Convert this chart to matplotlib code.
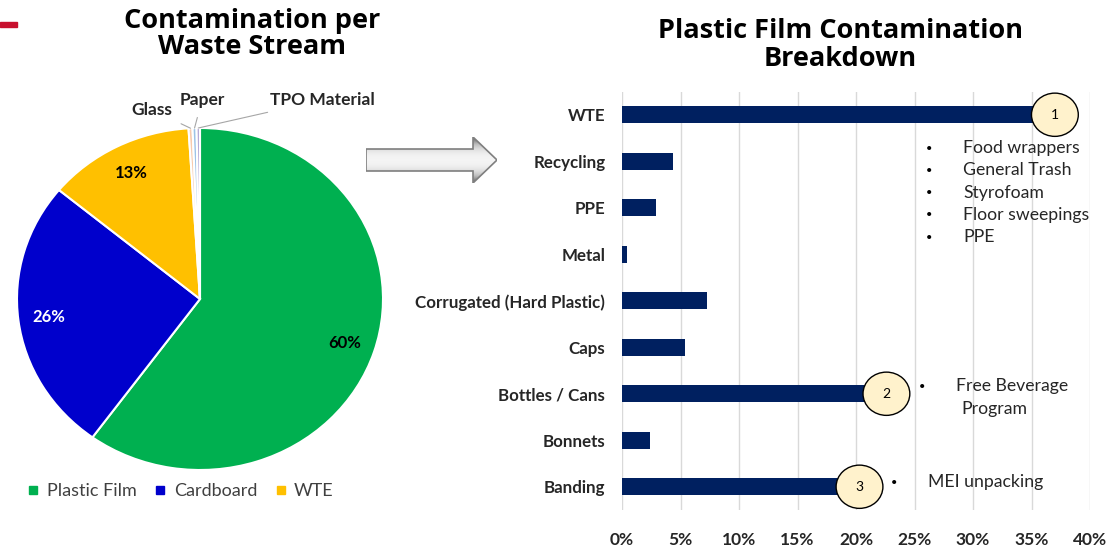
import numpy as np
import matplotlib.pyplot as plt
from matplotlib.patches import Ellipse, Polygon, Rectangle
from matplotlib.lines import Line2D

# pie data
streams = ['Plastic Film', 'Cardboard', 'WTE', 'Glass', 'Paper', 'TPO Material']
stream_share = [60, 26, 13, 0.35, 0.35, 0.3]
stream_colors = ['#00B050', '#0000CC', '#FFC000', '#F8CBAD', '#9DC3E6', '#B4A7D6']

# bar data
film_cats = ['WTE', 'Recycling', 'PPE', 'Metal', 'Corrugated (Hard Plastic)',
             'Caps', 'Bottles / Cans', 'Bonnets', 'Banding']
film_pct = [37, 4.4, 2.9, 0.4, 7.3, 5.4, 22.6, 2.4, 20.3]
ticks_pct = [0, 5, 10, 15, 20, 25, 30, 35, 40]

callouts = {'WTE': '1', 'Bottles / Cans': '2', 'Banding': '3'}
wte_notes = ['Food wrappers', 'General Trash', 'Styrofoam', 'Floor sweepings', 'PPE']

W, H = 1120, 549
fig = plt.figure(figsize=(W / 100, H / 100), dpi=100)
plt.rcParams['font.family'] = ['Lato', 'DejaVu Sans']

def fx(px):
    return px / W

def fy(py):
    return 1 - py / H

# red accent at top-left
fig.patches.append(Rectangle((0, fy(27)), fx(17), 5 / H, transform=fig.transFigure,
                             color='#C8102E', zorder=5))

# titles
fig.text(fx(252), fy(34), 'Contamination per\nWaste Stream', ha='center', va='center',
         fontsize=19.5, fontweight='bold', family='Open Sans', linespacing=0.95)
fig.text(fx(840), fy(45), 'Plastic Film Contamination\nBreakdown', ha='center', va='center',
         fontsize=19.5, fontweight='bold', family='Open Sans', linespacing=1.05)

# ---- pie ----
cx, cy, rx, ry = 200, 299, 183, 171
axp = fig.add_axes([fx(cx - rx), fy(cy + ry), 2 * rx / W, 2 * ry / H])

def pct_label(p):
    return '%d%%' % round(p) if p > 5 else ''

wedges, _, autotexts = axp.pie(stream_share, colors=stream_colors, startangle=90,
                               counterclock=False, autopct=pct_label, pctdistance=0.83,
                               wedgeprops=dict(edgecolor='white', linewidth=1.5),
                               textprops=dict(fontsize=12, fontweight='bold'))
axp.set_aspect('auto')
axp.set_xlim(-1, 1)
axp.set_ylim(-1, 1)
autotexts[1].set_color('white')

# leader labels for the tiny slices
small_lbl = {'Glass': (152, 110), 'Paper': (202, 100), 'TPO Material': (322, 100)}
for w, name in zip(wedges, streams):
    if name not in small_lbl:
        continue
    ang = np.deg2rad((w.theta1 + w.theta2) / 2)
    px, py = small_lbl[name]
    axp.annotate(name, xy=(np.cos(ang), np.sin(ang)), xycoords='data',
                 xytext=(fx(px), fy(py)), textcoords='figure fraction',
                 ha='center', va='center', fontsize=12.5, fontweight='bold', color='#262626',
                 arrowprops=dict(arrowstyle='-', color='#A6A6A6', lw=0.8,
                                 shrinkA=5, shrinkB=0), annotation_clip=False)

handles = [Line2D([], [], marker='s', ls='', color=c, markersize=6)
           for c in stream_colors[:3]]
fig.legend(handles, streams[:3], loc='center', bbox_to_anchor=(fx(180), fy(491)),
           ncol=3, frameon=False, fontsize=13, handlelength=0.8, handletextpad=0.35,
           columnspacing=0.9, labelcolor='#404040')

# ---- arrow ----
axa = fig.add_axes([fx(366), fy(183), fx(497) - fx(366), 46 / H])
axa.set_xlim(366, 497)
axa.set_ylim(183, 137)
axa.axis('off')
arrow_pts = [(366, 149), (473, 149), (473, 137), (497, 160), (473, 183), (473, 171), (366, 171)]
poly = Polygon(arrow_pts, closed=True, facecolor='none', edgecolor='#7F7F7F', lw=1.2)
grad = np.abs(np.linspace(-1, 1, 100))[:, None] * np.ones((1, 10))
img = axa.imshow(grad ** 2, cmap='Greys', vmin=-0.15, vmax=1.5, extent=(366, 497, 183, 137),
                 aspect='auto')
axa.add_patch(poly)
img.set_clip_path(poly)

# ---- bars ----
axb = fig.add_axes([fx(622), fy(510), fx(1090) - fx(622), 418.5 / H])
ypos = np.arange(len(film_cats))
axb.barh(ypos, film_pct, height=0.36, color='#002060', zorder=2)
axb.set_ylim(len(film_cats) - 0.5, -0.5)
axb.set_xlim(0, 40)
axb.set_yticks(ypos)
axb.set_yticklabels(film_cats, fontsize=12.2, fontweight='bold', color='#262626')
axb.set_xticks(ticks_pct)
axb.set_xticklabels(['%d%%' % t for t in ticks_pct], fontsize=12.5, fontweight='bold',
                    color='#262626')
axb.tick_params(length=0, axis='y', pad=12)
axb.tick_params(length=0, axis='x', pad=16)
axb.grid(axis='x', color='#D9D9D9', lw=1, zorder=0)
for s in axb.spines.values():
    s.set_visible(False)

for cat, num in callouts.items():
    i = film_cats.index(cat)
    axb.add_patch(Ellipse((film_pct[i], i), 4.0, 0.93, facecolor='#FFF2CC',
                          edgecolor='black', lw=1, zorder=4, clip_on=False))
    axb.text(film_pct[i], i, num, ha='center', va='center', fontsize=10, zorder=5)

# callout notes
for k, note in enumerate(wte_notes):
    y = 148 + k * 22.3
    fig.text(fx(929), fy(y), '\u2022', ha='center', va='center', fontsize=8)
    fig.text(fx(963), fy(y), note, ha='left', va='center', fontsize=12.7, color='#262626')

fig.text(fx(922), fy(386), '\u2022', ha='center', va='center', fontsize=8)
fig.text(fx(956), fy(386), 'Free Beverage', ha='left', va='center', fontsize=12.7, color='#262626')
fig.text(fx(961), fy(409), 'Program', ha='left', va='center', fontsize=12.7, color='#262626')
fig.text(fx(894), fy(482), '\u2022', ha='center', va='center', fontsize=8)
fig.text(fx(928), fy(482), 'MEI unpacking', ha='left', va='center', fontsize=12.7, color='#262626')

fig.savefig('out.png', dpi=100)
